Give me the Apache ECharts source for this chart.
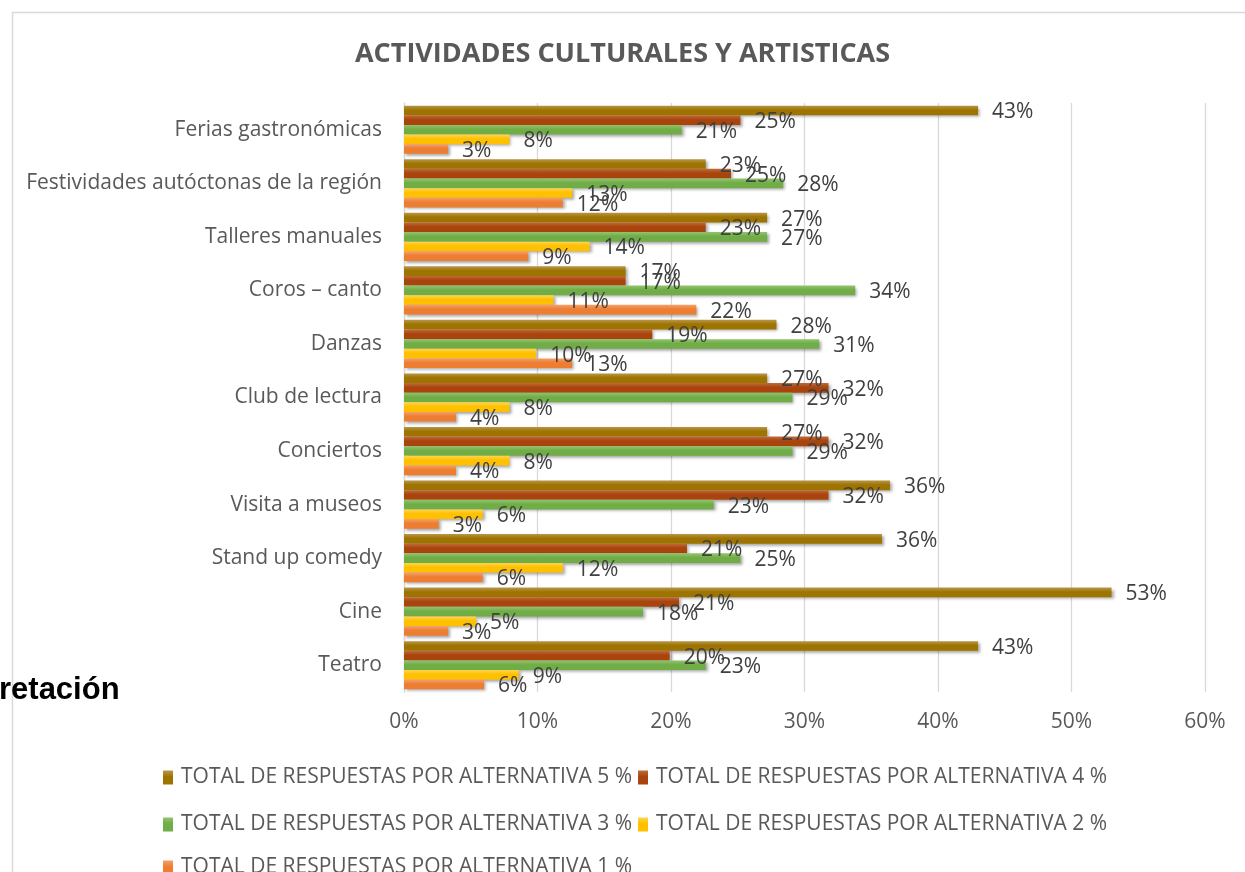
<!DOCTYPE html>
<html><head><meta charset="utf-8">
<script src="https://cdn.jsdelivr.net/npm/echarts@6/dist/echarts.min.js"></script>
<style>html,body{margin:0;padding:0;background:#fff;overflow:hidden}#c{width:1245px;height:872px}</style>
</head><body><div id="c"></div>
<script>
const categories = ['Teatro','Cine','Stand up comedy','Visita a museos','Conciertos','Club de lectura','Danzas','Coros – canto','Talleres manuales','Festividades autóctonas de la región','Ferias gastronómicas'];
const alt1 = [6.0, 3.3, 5.9, 2.6, 3.9, 3.9, 12.6, 21.9, 9.3, 11.9, 3.3];
const alt2 = [8.6, 5.4, 11.9, 5.9, 7.9, 7.9, 9.9, 11.2, 13.9, 12.6, 7.9];
const alt3 = [22.6, 17.9, 25.2, 23.2, 29.1, 29.1, 31.1, 33.8, 27.2, 28.4, 20.8];
const alt4 = [19.9, 20.6, 21.2, 31.8, 31.8, 31.8, 18.6, 16.6, 22.6, 24.5, 25.2];
const alt5 = [43.0, 53.0, 35.8, 36.4, 27.2, 27.2, 27.9, 16.6, 27.2, 22.6, 43.0];
const seriesNames = ['TOTAL DE RESPUESTAS POR ALTERNATIVA 5 %','TOTAL DE RESPUESTAS POR ALTERNATIVA 4 %','TOTAL DE RESPUESTAS POR ALTERNATIVA 3 %','TOTAL DE RESPUESTAS POR ALTERNATIVA 2 %','TOTAL DE RESPUESTAS POR ALTERNATIVA 1 %'];
const xTickMin = 0, xTickMax = 60, xTickStep = 10;
const titleText = 'ACTIVIDADES CULTURALES Y ARTISTICAS';

const colors = ['#9E7400','#A8440C','#70AD47','#FFC000','#ED7D31'];
const lights = ['#B8964A','#C06A3A','#92C46F','#FFD54D','#F4A06A'];
const allData = [alt5, alt4, alt3, alt2, alt1];
const FONT = '"Open Sans", "Noto Sans", sans-serif';

const chart = echarts.init(document.getElementById('c'), null, {renderer:'canvas'});
const series = allData.map((d, i) => ({
  name: seriesNames[i],
  type: 'bar',
  data: d,
  barGap: '0%',
  barCategoryGap: '10%',
  itemStyle: {
    color: new echarts.graphic.LinearGradient(0, 0, 0, 1, [
      {offset: 0, color: lights[i]}, {offset: 0.45, color: colors[i]}, {offset: 1, color: colors[i]}
    ]),
    shadowColor: 'rgba(0,0,0,0.35)', shadowBlur: 3, shadowOffsetX: 2, shadowOffsetY: 2
  },
  label: {
    show: true, position: 'right', distance: 14, offset: [0, 2],
    color: '#404040', fontSize: 21, fontFamily: FONT,
    formatter: p => Math.round(p.value) + '%'
  }
}));

const legendRow = (names, left, top) => ({
  data: names, left: left, top: top, orient: 'horizontal',
  icon: 'rect', itemWidth: 10, itemHeight: 14, itemGap: 6,
  textStyle: {color: '#595959', fontSize: 21, fontFamily: FONT, padding: [0,0,0,3]},
  selectedMode: false
});

chart.setOption({
  animation: false,
  backgroundColor: '#fff',
  title: {text: titleText, left: 'center', top: 36,
    textStyle: {fontSize: 27, fontWeight: 'bold', color: '#595959', fontFamily: FONT}},
  grid: {left: 404, right: 40, top: 103, bottom: 180, containLabel: false},
  xAxis: {type: 'value', min: xTickMin, max: xTickMax, interval: xTickStep,
    axisLine: {show: false}, axisTick: {show: false},
    splitLine: {lineStyle: {color: '#d9d9d9', width: 1.3}},
    axisLabel: {formatter: '{value}%', color: '#595959', fontSize: 21, fontFamily: FONT, margin: 20}},
  yAxis: {type: 'category', data: categories,
    axisLine: {show: true, lineStyle: {color: '#d9d9d9', width: 1.3}},
    axisTick: {show: false},
    axisLabel: {color: '#595959', fontSize: 21, fontFamily: FONT, margin: 22}},
  legend: [
    legendRow([seriesNames[0], seriesNames[1]], 158, 762),
    legendRow([seriesNames[2], seriesNames[3]], 158, 809),
    legendRow([seriesNames[4]], 158, 852)
  ],
  graphic: [
    {type: 'rect', left: 10, top: 10, shape: {width: 1400, height: 1000},
     style: {fill: 'none', stroke: '#d9d9d9', lineWidth: 1.5}, silent: true, z: -1},
    {type: 'text', left: -1, top: 675, style: {text: 'retación', fill: '#000',
     font: 'bold 31px "Liberation Sans", Arial, sans-serif'}, z: 10}
  ],
  series: series
});
</script>
</body></html>
